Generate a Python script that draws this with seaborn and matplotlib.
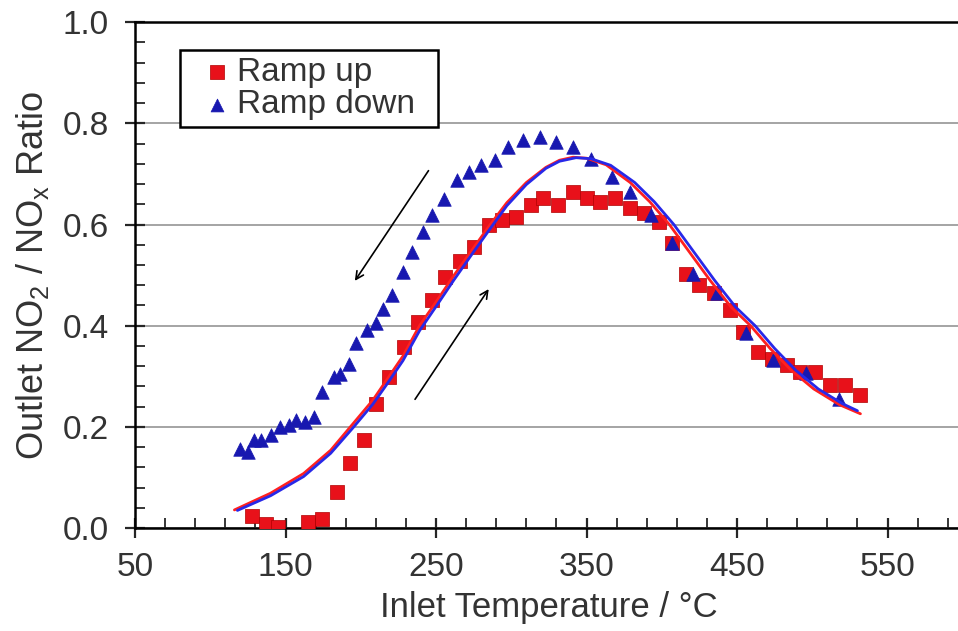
import numpy as np
import pandas as pd
import matplotlib
matplotlib.use("Agg")
import matplotlib.pyplot as plt
import seaborn as sns
from matplotlib.ticker import FixedLocator, FormatStrFormatter

# measured points
up_temp = [128, 137, 145, 165, 174, 184, 193, 202, 210, 219, 229, 238, 247,
           256, 266, 275, 285, 294, 303, 313, 321, 331, 341,
           350, 359, 369, 379, 388, 398, 407, 416, 425, 435,
           445, 454, 464, 473, 483, 492, 502, 512, 522, 532]
up_ratio = [0.024, 0.009, 0.002, 0.012, 0.019, 0.072, 0.128, 0.174, 0.245, 0.298, 0.358, 0.408, 0.451,
            0.497, 0.528, 0.556, 0.599, 0.609, 0.615, 0.638, 0.652, 0.638, 0.665,
            0.652, 0.645, 0.652, 0.632, 0.622, 0.605, 0.563, 0.503, 0.480, 0.464,
            0.431, 0.388, 0.348, 0.335, 0.322, 0.309, 0.309, 0.283, 0.283, 0.263]

down_temp = [120, 125, 129, 134, 140, 146, 152, 157, 163, 169, 174, 182, 186, 192, 197,
             204, 210, 215, 221, 228, 234, 241, 247, 255, 264, 272, 280, 289, 298, 308,
             319, 330, 341, 353, 367, 379, 393, 407, 421, 437, 456, 474, 496, 518]
down_ratio = [0.157, 0.151, 0.174, 0.174, 0.185, 0.200, 0.204, 0.213, 0.210, 0.220,
              0.269, 0.299, 0.305, 0.325, 0.365, 0.391, 0.405, 0.434, 0.460, 0.507,
              0.546, 0.586, 0.619, 0.650, 0.688, 0.704, 0.717, 0.727, 0.754, 0.767,
              0.773, 0.763, 0.754, 0.729, 0.694, 0.665, 0.619, 0.563, 0.503, 0.464,
              0.385, 0.332, 0.306, 0.256]

# fitted curves
fit_up_temp = [116, 140, 162, 180, 195, 208, 217, 228, 239, 250, 262, 274, 286, 297,
               310, 323, 332, 341, 350, 363, 379, 392, 405, 418, 432, 446, 459, 472,
               486, 501, 518, 532]
fit_up_ratio = [0.036, 0.069, 0.108, 0.154, 0.207, 0.253, 0.292, 0.340, 0.400, 0.447,
                0.500, 0.550, 0.600, 0.643, 0.683, 0.713, 0.727, 0.733, 0.731, 0.718,
                0.683, 0.645, 0.600, 0.547, 0.490, 0.437, 0.400, 0.355, 0.312, 0.275,
                0.244, 0.226]
fit_down_temp = [118, 140, 162, 180, 195, 208, 217, 228, 239, 250, 262, 274, 286, 297,
                 310, 323, 332, 343, 353, 366, 382, 395, 408, 421, 435, 449, 462, 475,
                 489, 504, 520, 530]
fit_down_ratio = [0.035, 0.064, 0.102, 0.148, 0.199, 0.245, 0.283, 0.331, 0.390, 0.438,
                  0.491, 0.542, 0.592, 0.637, 0.679, 0.711, 0.725, 0.732, 0.730, 0.717,
                  0.683, 0.645, 0.600, 0.547, 0.490, 0.437, 0.400, 0.355, 0.312, 0.275,
                  0.246, 0.232]

x_major = [50, 150, 250, 350, 450, 550]
x_minor = list(range(50, 601, 20))
y_major = [0.0, 0.2, 0.4, 0.6, 0.8, 1.0]
y_minor = [i * 0.04 for i in range(26)]

sns.set_style("white")
plt.rcParams['font.family'] = ['Liberation Sans', 'DejaVu Sans']
plt.rcParams['mathtext.default'] = 'regular'

text_col = '#333333'
red = '#e8111a'
blue = '#1818b0'

fig = plt.figure(figsize=(9.58, 6.31), dpi=100)
ax = fig.add_axes([0.141, 0.163, 0.864, 0.802])

ax.grid(axis='y', color='#8c8c8c', linewidth=1.1)
ax.set_axisbelow(True)

sns.scatterplot(x=up_temp, y=up_ratio, marker='s', s=105, color=red,
                edgecolor='#b00000', linewidth=0.5, label='Ramp up', ax=ax, zorder=3)
sns.scatterplot(x=down_temp, y=down_ratio, marker='^', s=95, color=blue,
                edgecolor=blue, linewidth=0.5, label='Ramp down', ax=ax, zorder=4)
sns.lineplot(x=fit_up_temp, y=fit_up_ratio, sort=False, color='#ff2020', linewidth=2,
             ax=ax, zorder=5, legend=False)
sns.lineplot(x=fit_down_temp, y=fit_down_ratio, sort=False, color='#2828e8', linewidth=2,
             ax=ax, zorder=5, legend=False)

# direction arrows
arrows = [((246, 0.711), (195, 0.484)), ((235, 0.250), (286, 0.477))]
for start, end in arrows:
    ax.annotate('', xy=end, xytext=start,
                arrowprops=dict(arrowstyle='->', color='black', lw=1.2,
                                mutation_scale=14), zorder=6)

ax.set_xlim(50, 600)
ax.set_ylim(0, 1.0)
ax.xaxis.set_major_locator(FixedLocator(x_major))
ax.xaxis.set_minor_locator(FixedLocator(x_minor))
ax.yaxis.set_major_locator(FixedLocator(y_major))
ax.yaxis.set_minor_locator(FixedLocator(y_minor))
ax.yaxis.set_major_formatter(FormatStrFormatter('%.1f'))

ax.tick_params(which='major', direction='inout', length=14, width=1.6,
               labelsize=24, labelcolor=text_col, pad=10)
ax.tick_params(which='minor', direction='in', length=7, width=1.3)
ax.tick_params(axis='y', which='major', pad=12)
ax.tick_params(axis='x', which='both', bottom=True)
ax.tick_params(axis='y', which='both', left=True)

for side in ['left', 'bottom', 'top', 'right']:
    ax.spines[side].set_color('black')
    ax.spines[side].set_linewidth(1.8)

ax.set_xlabel('Inlet Temperature / °C', fontsize=25, color=text_col, labelpad=6)
ax.set_ylabel('Outlet NO$_2$ / NO$_x$ Ratio', fontsize=26, color=text_col, labelpad=8)

leg = ax.legend(loc='upper left', bbox_to_anchor=(0.0543, 0.945, 0.3116, 0.0),
                mode='expand', fontsize=24,
                frameon=True, fancybox=False, framealpha=1, edgecolor='black',
                borderpad=0.2, labelspacing=0.05, handletextpad=-0.3,
                handlelength=1.8, markerscale=0.95, borderaxespad=0)
leg.get_frame().set_linewidth(1.8)
for t in leg.get_texts():
    t.set_color(text_col)

fig.savefig('out.png', dpi=100)
